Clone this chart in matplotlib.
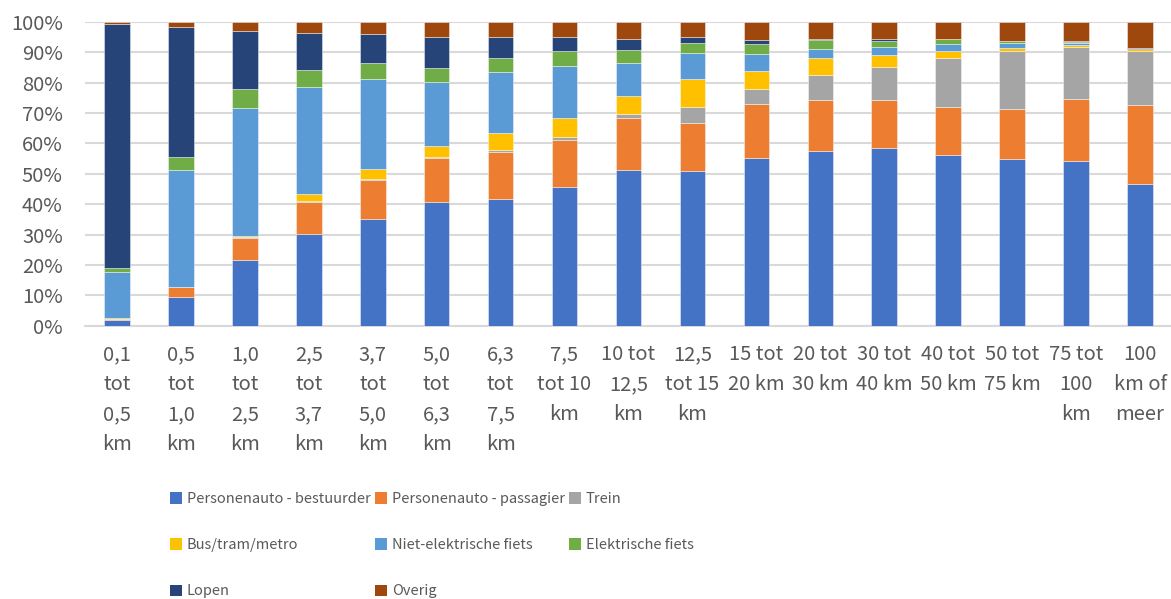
import matplotlib
matplotlib.use("Agg")
import matplotlib.pyplot as plt
import numpy as np
from matplotlib.patches import Patch

plt.rcParams['font.family'] = ['Noto Sans CJK SC', 'DejaVu Sans']

tick_labels = [
    "0,1\ntot\n0,5\nkm", "0,5\ntot\n1,0\nkm", "1,0\ntot\n2,5\nkm", "2,5\ntot\n3,7\nkm",
    "3,7\ntot\n5,0\nkm", "5,0\ntot\n6,3\nkm", "6,3\ntot\n7,5\nkm", "7,5\ntot 10\nkm",
    "10 tot\n12,5\nkm", "12,5\ntot 15\nkm", "15 tot\n20 km", "20 tot\n30 km",
    "30 tot\n40 km", "40 tot\n50 km", "50 tot\n75 km", "75 tot\n100\nkm", "100\nkm of\nmeer",
]

series_names = ["Personenauto - bestuurder", "Personenauto - passagier", "Trein",
                "Bus/tram/metro", "Niet-elektrische fiets", "Elektrische fiets",
                "Lopen", "Overig"]

bestuurder = [1.9, 9.4, 21.7, 30.3, 35.0, 40.8, 41.8, 45.6, 51.3, 50.9, 55.3, 57.4, 58.6, 56.3, 54.8, 54.3, 46.8]
passagier  = [0.4, 3.2, 7.3, 10.5, 13.1, 14.5, 15.5, 15.4, 17.2, 15.9, 17.7, 16.8, 15.6, 15.8, 16.7, 20.3, 26.0]
trein      = [0.0, 0.0, 0.1, 0.1, 0.2, 0.2, 0.7, 1.2, 1.3, 5.3, 5.0, 8.5, 11.1, 16.0, 19.1, 17.2, 17.7]
bus        = [0.1, 0.2, 0.6, 2.6, 3.4, 3.6, 5.6, 6.2, 5.8, 9.2, 6.0, 5.3, 3.9, 2.4, 0.8, 0.5, 0.5]
fiets      = [15.2, 38.4, 41.9, 35.2, 29.5, 21.3, 19.9, 17.2, 10.9, 8.6, 5.6, 3.2, 2.5, 2.4, 1.6, 0.7, 0.1]
elektrisch = [1.5, 4.3, 6.3, 5.4, 5.2, 4.5, 4.5, 4.7, 4.4, 3.3, 3.3, 2.8, 2.2, 1.4, 0.7, 0.3, 0.1]
lopen      = [80.1, 43.0, 19.2, 12.4, 9.7, 10.2, 7.0, 4.7, 3.4, 1.8, 1.3, 0.5, 0.4, 0.2, 0.2, 0.3, 0.1]
overig     = [0.8, 1.5, 2.9, 3.5, 3.9, 4.9, 5.0, 5.0, 5.7, 5.0, 5.8, 5.5, 5.7, 5.5, 6.1, 6.4, 8.7]

colors = ["#4472C4", "#ED7D31", "#A5A5A5", "#FFC000", "#5B9BD5", "#70AD47", "#264478", "#9E480E"]
series = [bestuurder, passagier, trein, bus, fiets, elektrisch, lopen, overig]

fig = plt.figure(figsize=(11.71, 5.99), dpi=100)
ax = fig.add_axes([85/1171, 1 - 325.7/599, (1172 - 85)/1171, (325.7 - 22)/599])

x = np.arange(len(tick_labels))
bottom = np.zeros(len(x))
handles = []
for name, vals, col in zip(series_names, series, colors):
    v = np.array(vals, dtype=float)
    ax.bar(x, v, width=0.4, bottom=bottom, color=col, edgecolor=(1, 1, 1, 0.5),
           linewidth=0.6, zorder=3)
    bottom += v
    handles.append(Patch(facecolor=col, edgecolor='none', label=name))

ax.set_xlim(-0.5, len(x) - 0.5)
ax.set_ylim(0, 100)
ax.set_yticks(np.arange(0, 101, 10))
ax.set_yticklabels([f"{t}%" for t in range(0, 101, 10)])
ax.yaxis.grid(True, color="#D9D9D9", linewidth=1.5, zorder=0)
ax.set_axisbelow(True)
for s in ["top", "right", "left"]:
    ax.spines[s].set_visible(False)
ax.spines["bottom"].set_color("#D9D9D9")
ax.spines["bottom"].set_linewidth(1.5)
ax.set_xticks(x)
ax.set_xticklabels(tick_labels, linespacing=1.56)
ax.tick_params(axis="both", length=0, labelsize=14.5, labelcolor="#595959")
ax.tick_params(axis="y", pad=16)
ax.tick_params(axis="x", pad=13.5)

# reorder for row-wise legend layout with 3 columns
order = [0, 3, 6, 1, 4, 7, 2, 5]
leg = fig.legend([handles[i] for i in order], [series_names[i] for i in order],
                 ncol=3, loc="upper left", bbox_to_anchor=(170/1171, 1 - 492/599),
                 frameon=False, fontsize=10.5, labelcolor="#595959",
                 handlelength=0.8, handleheight=0.8, handletextpad=0.35,
                 columnspacing=0.3, labelspacing=2.2, borderaxespad=0, borderpad=0)

fig.savefig("out.png", dpi=100)
